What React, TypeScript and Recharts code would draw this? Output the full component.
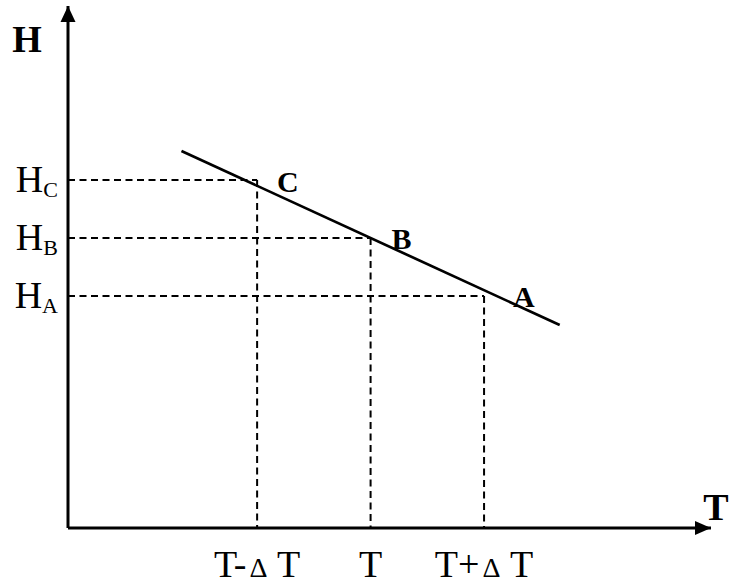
import { LineChart, Line, XAxis, YAxis, ReferenceLine, ReferenceDot } from "recharts";

// abscissa: T-ΔT, T, T+ΔT
const tTicks = [1.0, 1.6, 2.2];
const tTickLabels = ["T-ΔT", "T", "T+ΔT"];

// ordinate: H_A, H_B, H_C
const hTicks = [4, 5, 6];
const hTickSubs = ["A", "B", "C"];

// points on the line
const pointNames = ["A", "B", "C"];
const pointT = [2.2, 1.6, 1.0];
const pointH = [4, 5, 6];

// the straight line H(T)
const lineT = [0.6, 2.6];
const lineH = [6.5, 3.5];

const X_MAX = 3.4;
const Y_MAX = 9;

const serif = "'Liberation Serif', 'Times New Roman', serif";
const lineData = lineT.map((t, i) => ({ t, h: lineH[i] }));

// label offsets next to each point (px)
const labelShift: Record<string, [number, number]> = {
  A: [29, 11],
  B: [21, 11],
  C: [20, 12],
};

const dash = { stroke: "#000", strokeWidth: 2, strokeDasharray: "7 4.5" };

function XTick(props: any) {
  const { x, payload } = props;
  const i = tTicks.indexOf(payload.value);
  const label = tTickLabels[i] ?? "";
  const [before, after] = label.split("Δ");
  return (
    <text x={x} y={577} textAnchor="middle" fontFamily={serif} fontSize={38} fill="#000">
      {after === undefined ? (
        before
      ) : (
        <>
          <tspan>{before}</tspan>
          <tspan fontSize={28} dx={3}>Δ</tspan>
          <tspan>{" " + after}</tspan>
        </>
      )}
    </text>
  );
}

function YTick(props: any) {
  const { y, payload } = props;
  const i = hTicks.indexOf(payload.value);
  return (
    <text x={58} y={y + 12} textAnchor="end" fontFamily={serif} fontSize={38} fill="#000">
      <tspan>H</tspan>
      <tspan fontSize={22} dy={5}>
        {hTickSubs[i]}
      </tspan>
    </text>
  );
}

function ArrowRight(props: any) {
  const { cx, cy } = props;
  return (
    <g>
      <path d={`M${cx},${cy} L${cx - 16},${cy - 7} L${cx - 16},${cy + 7} Z`} fill="#000" />
      <text x={cx + 5} y={cy - 8} textAnchor="middle" fontFamily={serif} fontWeight="bold" fontSize={38} fill="#000">
        T
      </text>
    </g>
  );
}

function ArrowUp(props: any) {
  const { cx, cy } = props;
  return (
    <g>
      <path d={`M${cx},${cy} L${cx - 7.5},${cy + 16} L${cx + 7.5},${cy + 16} Z`} fill="#000" />
      <text x={cx - 41} y={cy + 46} textAnchor="middle" fontFamily={serif} fontWeight="bold" fontSize={38} fill="#000">
        H
      </text>
    </g>
  );
}

function PointLabel(name: string) {
  return (props: any) => {
    const { cx, cy } = props;
    const [dx, dy] = labelShift[name];
    return (
      <text x={cx + dx} y={cy + dy} fontFamily={serif} fontWeight="bold" fontSize={30} fill="#000">
        {name}
      </text>
    );
  };
}

export default function App() {
  return (
    <div style={{ position: "absolute", left: 0, top: 0, width: 729, height: 585, background: "#fff" }}>
      <LineChart width={729} height={585} data={lineData} margin={{ top: 6, right: 18, left: 0, bottom: 0 }}>
        <XAxis
          dataKey="t"
          type="number"
          domain={[0, X_MAX]}
          ticks={tTicks}
          tick={<XTick />}
          tickLine={false}
          height={57}
          axisLine={{ stroke: "#000", strokeWidth: 3 }}
          interval={0}
        />
        <YAxis
          type="number"
          domain={[0, Y_MAX]}
          ticks={hTicks}
          tick={<YTick />}
          tickLine={false}
          width={68}
          axisLine={{ stroke: "#000", strokeWidth: 3 }}
          interval={0}
        />
        {pointT.map((t, i) => (
          <ReferenceLine key={`h-${i}`} segment={[{ x: 0, y: pointH[i] }, { x: t, y: pointH[i] }]} {...dash} />
        ))}
        {pointT.map((t, i) => (
          <ReferenceLine key={`v-${i}`} segment={[{ x: t, y: pointH[i] }, { x: t, y: 0 }]} {...dash} />
        ))}
        <Line
          dataKey="h"
          type="linear"
          stroke="#000"
          strokeWidth={2.7}
          dot={false}
          activeDot={false}
          isAnimationActive={false}
        />
        {pointNames.map((n, i) => (
          <ReferenceDot key={n} x={pointT[i]} y={pointH[i]} r={0} shape={PointLabel(n)} />
        ))}
        <ReferenceDot x={X_MAX} y={0} r={0} shape={ArrowRight} ifOverflow="visible" />
        <ReferenceDot x={0} y={Y_MAX} r={0} shape={ArrowUp} ifOverflow="visible" />
      </LineChart>
    </div>
  );
}
